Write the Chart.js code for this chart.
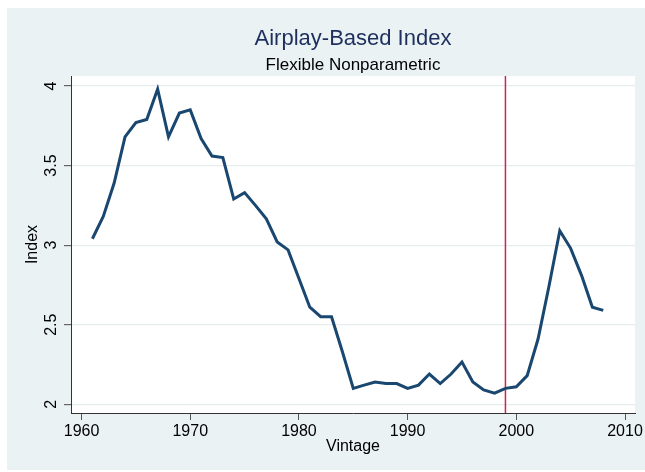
<!DOCTYPE html>
<html>
<head>
<meta charset="utf-8">
<title>Airplay-Based Index</title>
<script src="https://cdn.jsdelivr.net/npm/chart.js@4"></script>
<style>
    body { margin: 0; background: #ffffff; }
    canvas { display: block; }
</style>
</head>
<body>
<canvas id="index-chart" width="645" height="472"></canvas>
<script>
// Vintage years and estimated index values
const years = [
    1961, 1962, 1963, 1964, 1965, 1966, 1967, 1968, 1969, 1970,
    1971, 1972, 1973, 1974, 1975, 1976, 1977, 1978, 1979, 1980,
    1981, 1982, 1983, 1984, 1985, 1986, 1987, 1988, 1989, 1990,
    1991, 1992, 1993, 1994, 1995, 1996, 1997, 1998, 1999, 2000,
    2001, 2002, 2003, 2004, 2005, 2006, 2007, 2008
];
const indexValues = [
    3.04, 3.18, 3.39, 3.68, 3.77, 3.79, 3.98, 3.68, 3.83, 3.85,
    3.67, 3.56, 3.55, 3.29, 3.33, 3.25, 3.165, 3.02, 2.97, 2.79,
    2.61, 2.55, 2.55, 2.33, 2.10, 2.12, 2.14, 2.13, 2.13, 2.10,
    2.12, 2.19, 2.13, 2.19, 2.265, 2.14, 2.09, 2.07, 2.10, 2.11,
    2.18, 2.41, 2.74, 3.09, 2.98, 2.81, 2.61, 2.59
];

// Axis ranges and ticks
const xRange = [1959.03, 2010.92];
const yRange = [1.945, 4.063];
const xTickStep = 10;
const yTickStep = 0.5;

// Vertical reference line
const refLineYear = 1999;

const FONT = "'Liberation Sans', Arial, Helvetica, sans-serif";

// Stata-style backgrounds: white margin, light outer region, white plot
const backgroundPlugin = {
    id: 'background',
    beforeDraw(chart) {
        const { ctx, chartArea } = chart;
        ctx.save();
        ctx.fillStyle = '#ffffff';
        ctx.fillRect(0, 0, chart.width, chart.height);
        ctx.fillStyle = '#eaf2f3';
        ctx.fillRect(7, 8, chart.width - 7, chart.height - 10);
        ctx.fillStyle = '#ffffff';
        ctx.fillRect(chartArea.left, chartArea.top,
            chartArea.right - chartArea.left, chartArea.bottom - chartArea.top);
        ctx.restore();
    }
};

const linePoints = years.map((year, i) => ({ x: year, y: indexValues[i] }));
const refPoints = [
    { x: refLineYear, y: yRange[0] },
    { x: refLineYear, y: yRange[1] }
];

const ctx = document.getElementById('index-chart').getContext('2d');

new Chart(ctx, {
    type: 'line',
    data: {
        datasets: [{
            label: 'Index',
            data: linePoints,
            borderColor: '#1a476f',
            borderWidth: 3,
            pointRadius: 0,
            tension: 0,
            fill: false,
            order: 1
        }, {
            label: 'Reference',
            data: refPoints,
            borderColor: '#c8284f',
            borderWidth: 1.5,
            pointRadius: 0,
            fill: false,
            order: 2
        }]
    },
    options: {
        responsive: false,
        animation: false,
        layout: {
            padding: { left: 7, top: 8, right: 10, bottom: 0 }
        },
        plugins: {
            legend: { display: false },
            tooltip: { enabled: false },
            title: {
                display: true,
                text: 'Airplay-Based Index',
                color: '#1e2f5e',
                fullSize: false,
                font: { family: FONT, size: 22, weight: 'normal' },
                padding: { top: 17.6, bottom: 0 }
            },
            subtitle: {
                display: true,
                text: 'Flexible Nonparametric',
                color: '#000000',
                fullSize: false,
                font: { family: FONT, size: 17, weight: 'normal' },
                padding: { top: 3.3, bottom: 0.3 }
            }
        },
        scales: {
            x: {
                type: 'linear',
                min: xRange[0],
                max: xRange[1],
                afterFit(scale) { scale.height = 59; },
                ticks: {
                    stepSize: xTickStep,
                    includeBounds: false,
                    color: '#000000',
                    padding: 2,
                    maxRotation: 0,
                    font: { family: FONT, size: 16 },
                    callback: (value) => String(value)
                },
                grid: {
                    drawOnChartArea: false,
                    drawTicks: true,
                    tickLength: 7,
                    tickColor: '#555555'
                },
                border: { display: true, color: '#333333', width: 1 },
                title: {
                    display: true,
                    text: 'Vintage',
                    color: '#000000',
                    font: { family: FONT, size: 16 },
                    padding: { top: 0, bottom: 15.4 }
                }
            },
            y: {
                type: 'linear',
                min: yRange[0],
                max: yRange[1],
                afterFit(scale) { scale.width = 64; },
                ticks: {
                    stepSize: yTickStep,
                    includeBounds: false,
                    color: '#000000',
                    padding: 1,
                    minRotation: 90,
                    maxRotation: 90,
                    crossAlign: 'center',
                    font: { family: FONT, size: 16 },
                    callback: (value) => String(value)
                },
                grid: {
                    color: '#e6eef0',
                    lineWidth: 1.2,
                    drawTicks: true,
                    tickLength: 7,
                    tickColor: '#666666'
                },
                border: { display: true, color: '#333333', width: 1 },
                title: {
                    display: true,
                    text: 'Index',
                    color: '#000000',
                    font: { family: FONT, size: 16 },
                    padding: { top: 16.4, bottom: 0 }
                }
            }
        }
    },
    plugins: [backgroundPlugin]
});
</script>
</body>
</html>
